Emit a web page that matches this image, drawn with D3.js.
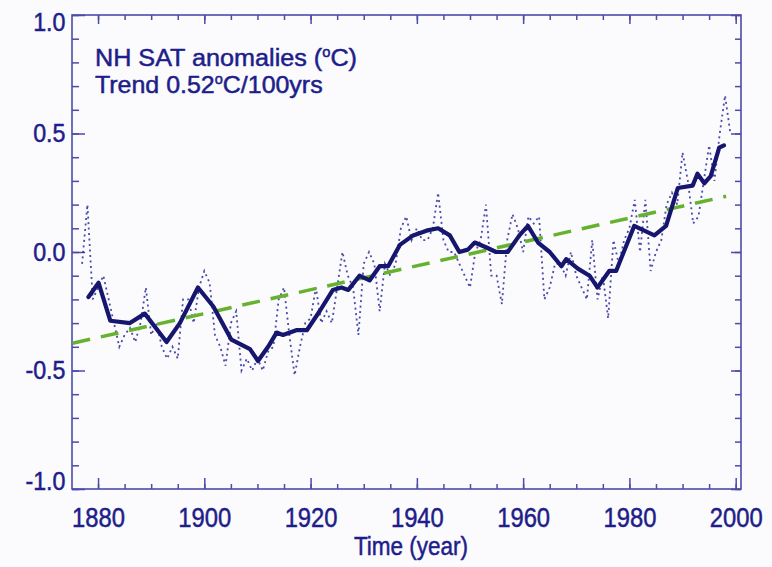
<!DOCTYPE html>
<html>
<head>
<meta charset="utf-8">
<script src="https://cdn.jsdelivr.net/npm/d3@7/dist/d3.min.js"></script>
<style>
	body { margin: 0; background: #fbfbfd; }
	svg { display: block; }
	text { font-family: "Liberation Sans", Arial, sans-serif; fill: #1e1e8a; stroke: #1e1e8a; stroke-width: 0.5px; }
</style>
</head>
<body>
<svg width="772" height="567"></svg>
<script>
// annual NH SAT anomalies (dotted line)
const annualYears = d3.range(1877, 2000);
const annualValues = [
	-0.05, 0.2, -0.2, -0.15, -0.1, -0.2, -0.3, -0.4, -0.35, -0.32,
	-0.38, -0.3, -0.15, -0.35, -0.3, -0.4, -0.45, -0.4, -0.45, -0.2,
	-0.2, -0.3, -0.15, -0.08, -0.13, -0.35, -0.4, -0.48, -0.3, -0.25,
	-0.5, -0.45, -0.5, -0.45, -0.5, -0.42, -0.4, -0.2, -0.15, -0.35,
	-0.52, -0.4, -0.3, -0.28, -0.15, -0.3, -0.25, -0.3, -0.15, 0.0,
	-0.1, -0.15, -0.35, -0.05, 0.0, -0.05, -0.25, -0.05, -0.1, -0.05,
	0.1, 0.15, 0.05, 0.1, 0.05, 0.05, 0.1, 0.25, 0.05, 0.0,
	0.0, -0.05, -0.1, -0.15, 0.0, 0.05, 0.2, -0.1, -0.1, -0.22,
	0.05, 0.16, 0.1, 0.0, 0.15, 0.12, 0.15, -0.2, -0.15, -0.05,
	-0.05, -0.1, 0.0, -0.1, -0.15, -0.2, 0.05, -0.2, -0.1, -0.28,
	0.05, -0.05, 0.05, 0.1, 0.22, 0.0, 0.22, -0.08, 0.0, 0.05,
	0.2, 0.25, 0.2, 0.42, 0.3, 0.12, 0.15, 0.3, 0.45, 0.3,
	0.5, 0.66, 0.5
];

// smoothed curve (thick line)
const smoothYears = [
	1878.2, 1880.1, 1882.3, 1886.0, 1888.8, 1892.9, 1895.4, 1898.8, 1901.7, 1905.1,
	1908.6, 1910.1, 1912.0, 1913.6, 1914.8, 1917.3, 1919.3, 1921.7, 1924.2, 1925.8,
	1927.1, 1929.2, 1931.1, 1933.0, 1934.6, 1936.8, 1939.3, 1941.8, 1944.0, 1946.2,
	1948.0, 1949.6, 1950.9, 1953.0, 1954.9, 1957.1, 1959.3, 1960.9, 1962.8, 1965.0,
	1967.2, 1968.1, 1970.3, 1972.5, 1974.0, 1976.2, 1977.5, 1980.9, 1982.8, 1984.7,
	1986.9, 1989.1, 1991.9, 1992.8, 1994.1, 1995.3, 1996.9, 1997.8
];
const smoothValues = [
	-0.19, -0.13, -0.29, -0.30, -0.26, -0.38, -0.30, -0.15, -0.23, -0.37,
	-0.41, -0.46, -0.40, -0.34, -0.35, -0.33, -0.33, -0.25, -0.16, -0.15,
	-0.16, -0.10, -0.12, -0.06, -0.06, 0.03, 0.07, 0.09, 0.10, 0.07,
	0.00, 0.01, 0.04, 0.02, 0.00, 0.00, 0.07, 0.11, 0.04, 0.00,
	-0.06, -0.03, -0.07, -0.10, -0.15, -0.08, -0.08, 0.11, 0.09, 0.07,
	0.11, 0.27, 0.28, 0.33, 0.29, 0.32, 0.44, 0.45
];

// linear trend, 0.52 C / 100 yrs
const trendYears = [1875.2, 1998.2];
const trendValues = [-0.385, 0.235];

const yearTicks = d3.range(1880, 2001, 20);
const yearMinor = d3.range(1880, 2001, 5);
const anomTicks = [-1.0, -0.5, 0.0, 0.5, 1.0];
const anomMinor = d3.range(-10, 11).map(d => d / 10);

const svg = d3.select('svg');
const plotLeft = 72, plotRight = 741, plotTop = 15, plotBottom = 489;

const x = d3.scaleLinear().domain([1875.1, 2001.0]).range([plotLeft, plotRight]);
const y = d3.scaleLinear().domain([-1, 1]).range([plotBottom, plotTop]);

const frameColor = '#4b4bab';

// frame
svg.append('rect')
	.attr('x', plotLeft).attr('y', plotTop)
	.attr('width', plotRight - plotLeft).attr('height', plotBottom - plotTop)
	.attr('fill', 'none')
	.attr('stroke', frameColor)
	.attr('stroke-width', 1.6);

const styleAxis = g => {
	g.select('.domain').remove();
	g.selectAll('.tick line').attr('stroke', frameColor).attr('stroke-width', 1.5);
};

// minor ticks first, all four sides
svg.append('g').attr('transform', `translate(0,${plotBottom})`)
	.call(d3.axisBottom(x).tickValues(yearMinor).tickSize(-5).tickFormat(''))
	.call(styleAxis);
svg.append('g').attr('transform', `translate(0,${plotTop})`)
	.call(d3.axisTop(x).tickValues(yearMinor).tickSize(-5).tickFormat(''))
	.call(styleAxis);
svg.append('g').attr('transform', `translate(${plotLeft},0)`)
	.call(d3.axisLeft(y).tickValues(anomMinor).tickSize(-7).tickFormat(''))
	.call(styleAxis);
svg.append('g').attr('transform', `translate(${plotRight},0)`)
	.call(d3.axisRight(y).tickValues(anomMinor).tickSize(-6).tickFormat(''))
	.call(styleAxis);

// major ticks with labels
svg.append('g').attr('transform', `translate(0,${plotBottom})`)
	.call(d3.axisBottom(x).tickValues(yearTicks).tickSize(-11).tickPadding(18).tickFormat(d3.format('d')))
	.call(styleAxis)
	.call(g => g.selectAll('text')
		.style('font-size', '28px')
		.attr('transform', 'scale(0.85,1)'));

svg.append('g').attr('transform', `translate(0,${plotTop})`)
	.call(d3.axisTop(x).tickValues(yearTicks).tickSize(-9).tickFormat(''))
	.call(styleAxis);

// plain hyphen for the minus, like the original
svg.append('g').attr('transform', `translate(${plotLeft},0)`)
	.call(d3.axisLeft(y).tickValues(anomTicks).tickSize(-13).tickPadding(7).tickFormat(d => d.toFixed(1)))
	.call(styleAxis)
	.call(g => g.selectAll('text')
		.style('font-size', '25px')
		.attr('dy', d => d === 1 ? '0.6em' : d === -1 ? '0em' : '0.32em')
		.attr('transform', 'scale(0.93,1)'));

svg.append('g').attr('transform', `translate(${plotRight},0)`)
	.call(d3.axisRight(y).tickValues(anomTicks).tickSize(-10).tickFormat(''))
	.call(styleAxis);

const line = d3.line().x(d => x(d[0])).y(d => y(d[1]));

// annual dotted
svg.append('path')
	.datum(annualYears.map((yr, i) => [yr, annualValues[i]]))
	.attr('d', line)
	.attr('fill', 'none')
	.attr('stroke', '#2c2c9c')
	.attr('stroke-width', 1.8)
	.attr('stroke-dasharray', '2,3.5')
	.attr('opacity', 0.85);

// trend
svg.append('path')
	.datum(trendYears.map((yr, i) => [yr, trendValues[i]]))
	.attr('d', line)
	.attr('fill', 'none')
	.attr('stroke', '#66b12e')
	.attr('stroke-width', 3.5)
	.attr('stroke-dasharray', '18,11');

// smoothed
svg.append('path')
	.datum(smoothYears.map((yr, i) => [yr, smoothValues[i]]))
	.attr('d', line)
	.attr('fill', 'none')
	.attr('stroke', '#16166f')
	.attr('stroke-width', 4.2)
	.attr('stroke-linejoin', 'round')
	.attr('stroke-linecap', 'round');

// legend text
const title = svg.append('text')
	.attr('transform', 'translate(95,66) scale(1.05,1)')
	.style('font-size', '24px');
title.append('tspan').text('NH SAT anomalies (');
title.append('tspan').attr('dy', -9).style('font-size', '14px').text('o');
title.append('tspan').attr('dy', 9).text('C)');

const trend = svg.append('text')
	.attr('transform', 'translate(95,93) scale(1.04,1)')
	.style('font-size', '24px');
trend.append('tspan').text('Trend 0.52');
trend.append('tspan').attr('dy', -9).style('font-size', '14px').text('o');
trend.append('tspan').attr('dy', 9).text('C/100yrs');

svg.append('text')
	.attr('transform', 'translate(411,555) scale(0.9,1)')
	.attr('text-anchor', 'middle')
	.style('font-size', '25px')
	.text('Time (year)');
</script>
</body>
</html>
